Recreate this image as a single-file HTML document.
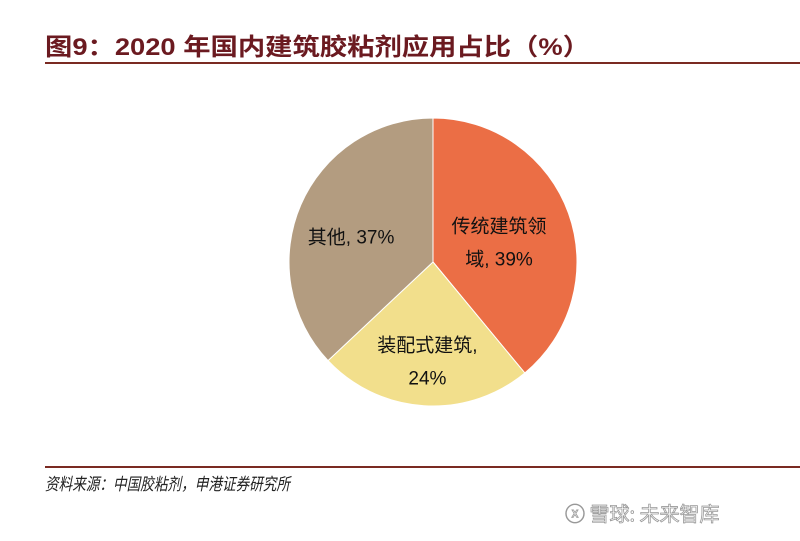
<!DOCTYPE html>
<html><head><meta charset="utf-8"><style>
body{margin:0;background:#fff;width:800px;height:536px;overflow:hidden;font-family:"Liberation Sans","Noto Sans CJK SC",sans-serif}
</style></head><body>
<svg id="c" width="800" height="536">
<text x="45" y="55" font-size="24" font-weight="bold" fill="#6b1a20" textLength="545" lengthAdjust="spacingAndGlyphs" font-family="Liberation Sans,Noto Sans CJK SC,sans-serif">图9：2020 年国内建筑胶粘剂应用占比（%）</text>
<rect x="45" y="62" width="755" height="2" fill="#7a2a22"/>
<g id="slices"></g>
<rect x="45" y="466" width="755" height="2" fill="#7a2a22"/>
<text x="45" y="490" font-size="17" font-style="italic" fill="#222" textLength="245" lengthAdjust="spacingAndGlyphs" font-family="Liberation Sans,Noto Sans CJK SC,sans-serif">资料来源：中国胶粘剂，申港证券研究所</text>
<text x="565" y="521" font-size="20" fill="#fff" stroke="#999" stroke-width="0.8" font-family="Noto Sans CJK SC,sans-serif">ⓧ 雪球: 未来智库</text>
</svg>
<script>
const categories=["传统建筑领域","装配式建筑","其他"];
const values=[39,24,37];
const colors=["#eb6e45","#f2df8c","#b39c80"];
const labelLines=[["传统建筑领","域, 39%"],["装配式建筑,","24%"],["其他, 37%"]];
const cx=433,cy=262,r=144;
const g=document.getElementById('slices');
const total=values.reduce((a,b)=>a+b,0);
let a0=0;
const ns="http://www.w3.org/2000/svg";
values.forEach((v,i)=>{
  const a1=a0+v/total*2*Math.PI;
  const p=(a)=>[cx+r*Math.sin(a),cy-r*Math.cos(a)];
  const [x0,y0]=p(a0),[x1,y1]=p(a1);
  const path=document.createElementNS(ns,'path');
  path.setAttribute('d',`M${cx},${cy}L${x0},${y0}A${r},${r} 0 ${a1-a0>Math.PI?1:0} 1 ${x1},${y1}Z`);
  path.setAttribute('fill',colors[i]);
  path.setAttribute('stroke','#fff');path.setAttribute('stroke-width','1');
  
  
  g.appendChild(path);
  const am=(a0+a1)/2, lr=r*0.62;
  let lx=cx+lr*Math.sin(am), ly=cy-lr*Math.cos(am)+10;
  if(i===0) lx-=18;
  const lines=labelLines[i];
  lines.forEach((t,j)=>{
    const tx=document.createElementNS(ns,'text');
    tx.setAttribute('x',lx);tx.setAttribute('y',ly+(j-(lines.length-1)/2)*33+7);
    tx.setAttribute('text-anchor','middle');tx.setAttribute('font-size','19');tx.setAttribute('fill','#111');
    
    
    tx.textContent=t;g.appendChild(tx);
  });
  a0=a1;
});
</script>
</body></html>
